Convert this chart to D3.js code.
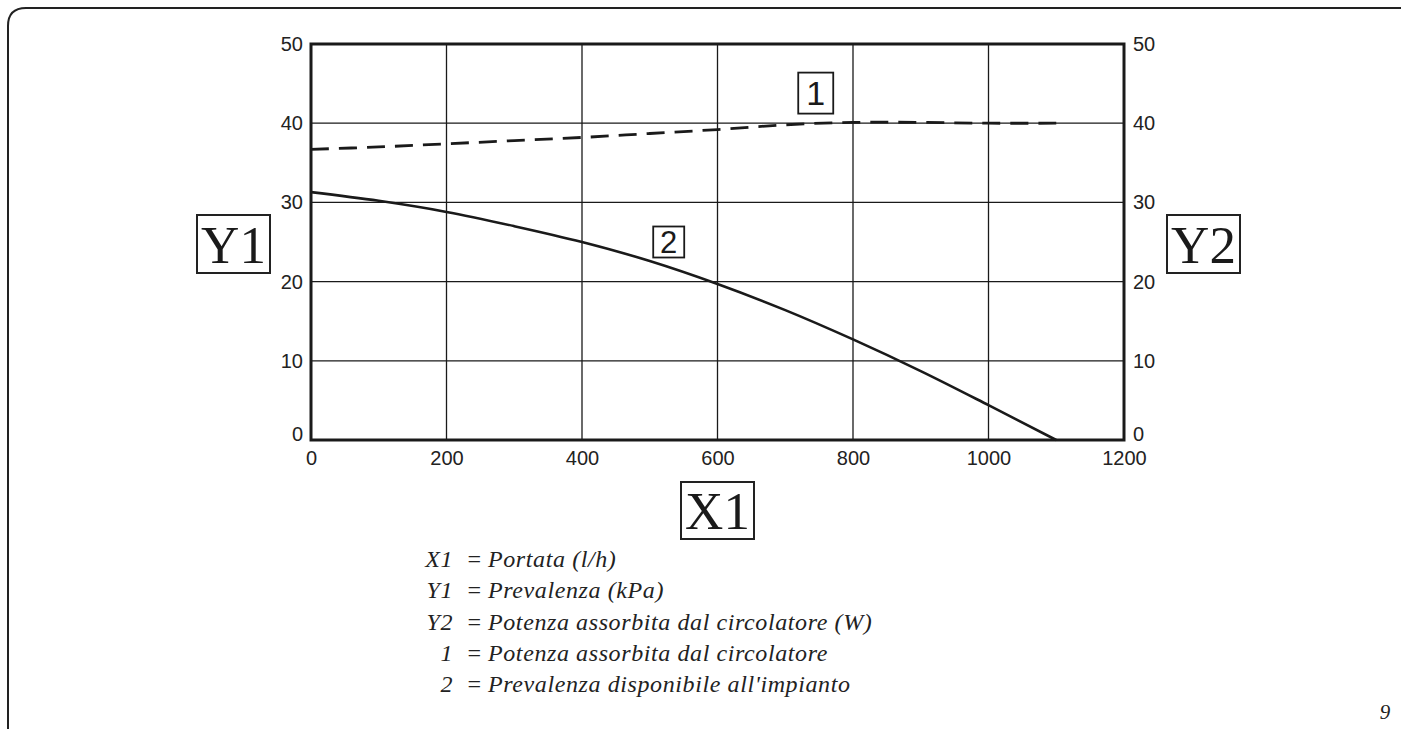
<!DOCTYPE html>
<html>
<head>
<meta charset="utf-8">
<script src="https://cdn.jsdelivr.net/npm/d3@7"></script>
<style>
  body { margin: 0; background: #fff; }
</style>
</head>
<body>
<div id="chart"></div>
<script>
// values
const flow = [0, 100, 200, 300, 400, 500, 600, 700, 800, 900, 1000, 1100];
const power = [36.7, 37.0, 37.4, 37.8, 38.2, 38.7, 39.2, 39.8, 40.1, 40.1, 40.0, 40.0];
const head = [31.3, 30.2, 28.8, 27.0, 25.0, 22.6, 19.7, 16.4, 12.7, 8.7, 4.4, 0];
const xTicks = [0, 200, 400, 600, 800, 1000, 1200];
const yTicks = [0, 10, 20, 30, 40, 50];
const legendKeys = ["X1", "Y1", "Y2", "1", "2"];
const legendTexts = [
  "Portata (l/h)",
  "Prevalenza (kPa)",
  "Potenza assorbita dal circolatore (W)",
  "Potenza assorbita dal circolatore",
  "Prevalenza disponibile all'impianto"
];

const W = 1401, H = 731;
const margin = { top: 44, right: 277, bottom: 291, left: 311 };
const width = W - margin.left - margin.right;
const height = H - margin.top - margin.bottom;
const ink = "#1a1a1a";

const svg = d3.select("#chart")
  .append("svg")
  .attr("width", W)
  .attr("height", H);

// page frame (left + top edge, rounded corner)
svg.append("path")
  .attr("d", "M8,729 L8,26 Q8,8 26,8 L1401,8")
  .attr("fill", "none")
  .attr("stroke", "#222")
  .attr("stroke-width", 2);

const g = svg.append("g")
  .attr("transform", `translate(${margin.left},${margin.top})`);

const x = d3.scaleLinear().domain([0, 1200]).range([0, width]);
const y = d3.scaleLinear().domain([0, 50]).range([height, 0]);

// grid
g.append("g")
  .selectAll("line.vg")
  .data(xTicks.slice(1, -1))
  .enter()
  .append("line")
  .attr("x1", d => x(d)).attr("x2", d => x(d))
  .attr("y1", 0).attr("y2", height)
  .attr("stroke", ink).attr("stroke-width", 1.3);

g.append("g")
  .selectAll("line.hg")
  .data(yTicks.slice(1, -1))
  .enter()
  .append("line")
  .attr("x1", 0).attr("x2", width)
  .attr("y1", d => y(d)).attr("y2", d => y(d))
  .attr("stroke", ink).attr("stroke-width", 1.3);

// axes (labels only)
const tickStyle = sel => sel
  .call(a => a.select(".domain").remove())
  .call(a => a.selectAll(".tick line").remove())
  .call(a => a.selectAll(".tick text")
    .style("font-family", "'Liberation Sans', Arial, sans-serif")
    .style("font-size", "20px")
    .style("fill", "#222"));

g.append("g")
  .attr("transform", `translate(0,${height})`)
  .call(d3.axisBottom(x).tickValues(xTicks).tickSize(0).tickPadding(11).tickFormat(d3.format("d")))
  .call(tickStyle);

g.append("g")
  .call(d3.axisLeft(y).tickValues(yTicks).tickSize(0).tickPadding(8))
  .call(tickStyle)
  .call(a => a.selectAll(".tick text").filter(d => d === 0).attr("dy", "0"));

g.append("g")
  .attr("transform", `translate(${width},0)`)
  .call(d3.axisRight(y).tickValues(yTicks).tickSize(0).tickPadding(9))
  .call(tickStyle)
  .call(a => a.selectAll(".tick text").filter(d => d === 0).attr("dy", "0"));

// plot frame
g.append("rect")
  .attr("width", width)
  .attr("height", height)
  .attr("fill", "none")
  .attr("stroke", ink)
  .attr("stroke-width", 3);

// curves
const line = d3.line()
  .x(d => x(d[0]))
  .y(d => y(d[1]))
  .curve(d3.curveCatmullRom.alpha(0.5));

g.append("path")
  .datum(flow.map((f, i) => [f, power[i]]))
  .attr("d", line)
  .attr("fill", "none")
  .attr("stroke", ink)
  .attr("stroke-width", 2.8)
  .attr("stroke-dasharray", "18 10");

g.append("path")
  .datum(flow.map((f, i) => [f, head[i]]))
  .attr("d", line)
  .attr("fill", "none")
  .attr("stroke", ink)
  .attr("stroke-width", 2.6);

// curve tags, placed in data units
function tag(label, fx, fy, w, h, fs) {
  const cx = x(fx), cy = y(fy);
  g.append("rect")
    .attr("x", cx - w / 2).attr("y", cy - h / 2)
    .attr("width", w).attr("height", h)
    .attr("fill", "#fff")
    .attr("stroke", ink).attr("stroke-width", 1.8);
  g.append("text")
    .attr("x", cx).attr("y", cy + fs * 0.36)
    .attr("text-anchor", "middle")
    .style("font-family", "'Liberation Sans', Arial, sans-serif")
    .style("font-size", fs + "px")
    .style("fill", ink)
    .text(label);
}
tag("1", 745, 43.8, 35, 41, 34);
tag("2", 528, 25.0, 31, 31, 31);

// big axis labels
function bigLabel(label, cx, top, w, h, base) {
  svg.append("rect")
    .attr("x", cx - w / 2).attr("y", top)
    .attr("width", w).attr("height", h)
    .attr("fill", "none")
    .attr("stroke", "#222").attr("stroke-width", 2);
  svg.append("text")
    .attr("x", cx).attr("y", base)
    .attr("text-anchor", "middle")
    .style("font-family", "'Liberation Serif', 'Times New Roman', serif")
    .style("font-size", "53px")
    .style("fill", "#1a1a1a")
    .text(label);
}
bigLabel("Y1", 233.5, 215, 73, 58, 263);
bigLabel("Y2", 1203.5, 215, 73, 58, 263);
bigLabel("X1", 717.5, 482, 73, 57, 529);

// legend
const legend = svg.append("g")
  .style("font-family", "'Liberation Serif', 'Times New Roman', serif")
  .style("font-style", "italic")
  .style("font-size", "24px")
  .style("letter-spacing", "0.6px")
  .style("fill", "#222");

legendKeys.forEach((k, i) => {
  const by = 567 + i * 31.3;
  legend.append("text").attr("x", 453).attr("y", by).attr("text-anchor", "end").text(k);
  legend.append("text").attr("x", 466).attr("y", by).text("=");
  legend.append("text").attr("x", 488).attr("y", by).text(legendTexts[i]);
});

// page number
svg.append("text")
  .attr("x", 1385).attr("y", 719)
  .attr("text-anchor", "middle")
  .style("font-family", "'Liberation Serif', 'Times New Roman', serif")
  .style("font-style", "italic")
  .style("font-size", "21px")
  .style("fill", "#222")
  .text("9");
</script>
</body>
</html>
